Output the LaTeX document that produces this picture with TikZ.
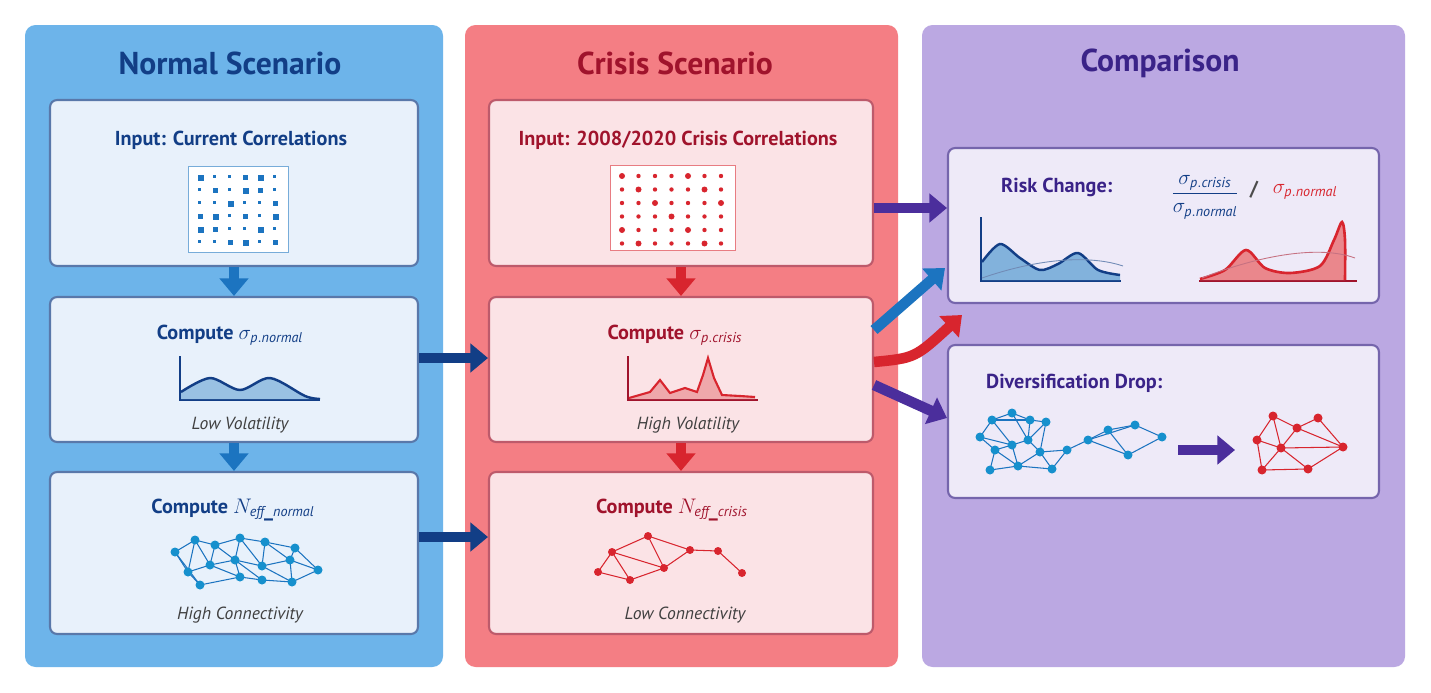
\documentclass[tikz,border=0pt]{standalone}
\usepackage{fontspec}
\setmainfont{PT Sans}
\usetikzlibrary{arrows.meta, positioning, calc}

\definecolor{bluepanel}{HTML}{6DB4EA}
\definecolor{redpanel}{HTML}{F47E84}
\definecolor{purppanel}{HTML}{BBA8E2}
\definecolor{bluebox}{HTML}{E8F1FB}
\definecolor{redbox}{HTML}{FBE3E6}
\definecolor{purpbox}{HTML}{EEEAF8}
\definecolor{navy}{HTML}{123E86}
\definecolor{darkred}{HTML}{A0132C}
\definecolor{darkpurp}{HTML}{3A2388}
\definecolor{midblue}{HTML}{1C74C0}
\definecolor{midred}{HTML}{D8252E}
\definecolor{arrpurp}{HTML}{4B2E9C}

\begin{document}
\begin{tikzpicture}
        [
            x=0.02cm, y=-0.02cm,
            box/.style = {draw, rounded corners=4pt, line width=1.2pt, inner sep=0pt},
            ttl/.style = {font=\fontsize{18}{20}\selectfont\bfseries},
            head/.style = {font=\fontsize{11.5}{13}\selectfont\bfseries},
            lbl/.style = {font=\fontsize{10}{12}\selectfont\itshape, text=black!75},
            bigarr/.style = {line width=6pt, -{Triangle[length=10pt, width=16pt]}},
        ]
        \useasboundingbox (0,0) rectangle (1431,693);
        \fill[white] (0,0) rectangle (1431,693);

        % panels
        \fill[bluepanel, rounded corners=6pt] (25,25) rectangle (443,667);
        \fill[redpanel, rounded corners=6pt] (465,25) rectangle (898,667);
        \fill[purppanel, rounded corners=6pt] (922,25) rectangle (1405,667);
        \node[ttl, text=navy] (tnorm) at (230,63) {Normal Scenario};
        \node[ttl, text=darkred] (tcris) at (675,63) {Crisis Scenario};
        \node[ttl, text=darkpurp] (tcomp) at (1160,63) {Comparison};

        % boxes
        \node[box, draw=navy!70, fill=bluebox, minimum width=7.36cm, minimum height=3.32cm] (n1) at (234,183) {};
        \node[box, draw=navy!70, fill=bluebox, minimum width=7.36cm, minimum height=2.9cm] (n2) at (234,369.5) {};
        \node[box, draw=navy!70, fill=bluebox, minimum width=7.36cm, minimum height=3.24cm] (n3) at (234,553) {};
        \node[box, draw=darkred!70, fill=redbox, minimum width=7.68cm, minimum height=3.32cm] (c1) at (681,183) {};
        \node[box, draw=darkred!70, fill=redbox, minimum width=7.68cm, minimum height=2.9cm] (c2) at (681,369.5) {};
        \node[box, draw=darkred!70, fill=redbox, minimum width=7.68cm, minimum height=3.24cm] (c3) at (681,553) {};
        \node[box, draw=darkpurp!70, fill=purpbox, minimum width=8.62cm, minimum height=3.1cm] (r1) at (1163.5,225.5) {};
        \node[box, draw=darkpurp!70, fill=purpbox, minimum width=8.62cm, minimum height=3.06cm] (r2) at (1163.5,421.5) {};

        % headings
        \node[head, text=navy] (hn1) at (231,140) {Input: Current Correlations};
        \node[head, text=navy] (hn2) at (230,335) {Compute $\sigma_{\mathit{p.normal}}$};
        \node[head, text=navy] (hn3) at (233,510) {Compute $N_{\mathit{eff\_normal}}$};
        \node[head, text=darkred] (hc1) at (678,140) {Input: 2008/2020 Crisis Correlations};
        \node[head, text=darkred] (hc2) at (675,335) {Compute $\sigma_{\mathit{p.crisis}}$};
        \node[head, text=darkred] (hc3) at (672,510) {Compute $N_{\mathit{eff\_crisis}}$};
        \node[head, text=darkpurp, anchor=west] (hr1) at (995,187) {Risk Change:};
        \node[head, text=navy] (frac) at (1205,197) {$\displaystyle\frac{\sigma_{\mathit{p.crisis}}}{\sigma_{\mathit{p.normal}}}$};
        \node[head, text=black!70] (slash) at (1254,190) {/};
        \node[head, text=midred] (signorm) at (1305,192) {$\sigma_{\mathit{p.normal}}$};
        \node[head, text=darkpurp, anchor=west] (hr2) at (980,383) {Diversification Drop:};

        \node[lbl] (ln2) at (240,425) {Low Volatility};
        \node[lbl] (ln3) at (240,615) {High Connectivity};
        \node[lbl] (lc2) at (688,425) {High Volatility};
        \node[lbl] (lc3) at (685,615) {Low Connectivity};

        % correlation matrices
        \draw[midblue!60, fill=white] (188,166) rectangle (288,252);
        \foreach \i in {0,...,5}
            \foreach \j in {0,...,5} {
                \pgfmathsetmacro{\s}{mod(\i*7+\j*3,4)<1 ? 6 : (mod(\i*5+\j,3)<1 ? 4.5 : 3)}
                \fill[midblue] (198+\i*15,175+\j*13) rectangle ++(\s,\s);
            }
        \draw[midred!60, fill=white] (610,165) rectangle (735,250);
        \foreach \i in {0,...,6}
            \foreach \j in {0,...,5} {
                \pgfmathsetmacro{\s}{mod(\i*3+\j*5,4)<1 ? 3 : 2.2}
                \fill[midred] (622+\i*16.5,176+\j*13.5) circle (\s);
            }

        % volatility curves
        \draw[navy, line width=0.8pt] (180,356) -- (180,400) -- (320,400);
        \fill[midblue!45] (181,399) -- plot[smooth] coordinates {(181,392) (210,378) (240,390) (270,378) (305,396) (320,399)} -- cycle;
        \draw[navy, line width=1.4pt] plot[smooth] coordinates {(181,392) (210,378) (240,390) (270,378) (305,396) (320,399)};
        \draw[darkred, line width=0.8pt] (628,356) -- (628,400) -- (758,400);
        \fill[midred!40] (629,399) -- plot coordinates {(629,398) (650,392) (660,380) (670,393) (685,388) (697,392) (703,375) (708,358) (714,378) (722,395) (740,396) (755,397)} -- (755,399) -- cycle;
        \draw[midred, line width=1.2pt] plot coordinates {(629,398) (650,392) (660,380) (670,393) (685,388) (697,392) (703,375) (708,358) (714,378) (722,395) (740,396) (755,397)};

        \draw[navy, line width=0.8pt] (981,217) -- (981,281) -- (1121,281);
        \fill[midblue!55] (982,280) -- plot[smooth] coordinates {(982,262) (1000,244) (1020,258) (1040,270) (1058,264) (1078,253) (1098,270) (1120,275)} -- (1120,280) -- cycle;
        \draw[navy, line width=1.4pt] plot[smooth] coordinates {(982,262) (1000,244) (1020,258) (1040,270) (1058,264) (1078,253) (1098,270) (1120,275)};
        \draw[navy!60, line width=0.5pt] (982,278) .. controls (1040,258) and (1090,255) .. (1123,266);
        \draw[darkred, line width=0.8pt] (1199,281) -- (1357,281);
        \fill[midred!55] (1200,280) -- plot[smooth] coordinates {(1200,279) (1225,270) (1246,250) (1265,268) (1290,273) (1320,266) (1334,240) (1342,222) (1345,240) (1345,280)} -- cycle;
        \draw[midred, line width=1.5pt] plot[smooth] coordinates {(1200,279) (1225,270) (1246,250) (1265,268) (1290,273) (1320,266) (1334,240) (1342,222) (1345,240) (1345,280)};
        \draw[darkred!60, line width=0.5pt] (1202,278) .. controls (1260,255) and (1320,245) .. (1355,258);

        % networks
        \foreach \px/\py [count=\k] in {175/552,195/540,215/545,240/538,265/542,295/548,188/572,210/565,235/560,262/566,290/560,318/570,200/585,240/577,262/580,292/582}
            \coordinate (nn\k) at (\px,\py);
        \foreach \a/\b in {1/2,2/3,3/4,4/5,5/6,1/7,7/8,8/9,9/10,10/11,11/12,7/13,13/14,14/15,15/16,16/12,2/8,3/9,4/10,5/11,6/12,2/7,3/8,4/9,5/10,8/14,9/15,10/16,1/13,6/11,9/14,11/16}
            \draw[midblue, line width=0.6pt] (nn\a) -- (nn\b);
        \foreach \k in {1,...,16} \fill[midblue!80!cyan] (nn\k) circle (4.5);

        \foreach \px/\py [count=\k] in {648/536,612/552,690/550,718/551,598/572,630/580,664/568,742/573}
            \coordinate (cn\k) at (\px,\py);
        \foreach \a/\b in {1/2,1/3,1/7,2/5,2/6,5/6,6/7,7/3,3/4,4/8,2/7}
            \draw[midred, line width=0.6pt] (cn\a) -- (cn\b);
        \foreach \k in {1,...,8} \fill[midred] (cn\k) circle (4);

        \foreach \px/\py [count=\k] in {980/437,992/420,1012/413,1030/420,1046/422,995/450,1012/445,1028/440,1040/452,990/470,1018/466,1052/469,1067/450,1088/440,1108/430,1135/425,1128/455,1162/437}
            \coordinate (dn\k) at (\px,\py);
        \foreach \a/\b in {1/2,2/3,3/4,4/5,1/6,6/7,7/8,8/9,6/10,10/11,11/12,2/7,3/8,4/8,5/9,9/12,9/13,12/13,13/14,14/15,15/16,16/18,18/17,17/14,15/17,14/16,1/7,2/4,7/11,8/5,9/11,6/11}
            \draw[midblue, line width=0.6pt] (dn\a) -- (dn\b);
        \foreach \k in {1,...,18} \fill[midblue!80!cyan] (dn\k) circle (4.5);
        \foreach \px/\py [count=\k] in {1273/416,1318/418,1297/428,1257/440,1281/448,1343/447,1262/470,1308/469}
            \coordinate (en\k) at (\px,\py);
        \foreach \a/\b in {1/3,1/4,1/5,3/2,2/6,3/5,3/6,4/5,4/7,5/7,5/8,5/6,6/8,7/8}
            \draw[midred, line width=0.6pt] (en\a) -- (en\b);
        \foreach \k in {1,...,8} \fill[midred] (en\k) circle (4.5);
        \coordinate (da) at (1178,450);
        \coordinate (db) at (1235,450);
        \draw[bigarr, arrpurp] (da) -- (db);

        % flow arrows
        \coordinate (y208) at (0,208);
        \coordinate (y330) at (0,330);
        \coordinate (y358) at (0,358);
        \coordinate (y360) at (0,362);
        \coordinate (y385) at (0,385);
        \coordinate (y418) at (0,418);
        \coordinate (y537) at (0,537);
        \draw[bigarr, midblue] (n1.south) -- (n2.north);
        \draw[bigarr, midblue] (n2.south) -- (n3.north);
        \draw[bigarr, midred] (c1.south) -- (c2.north);
        \draw[bigarr, midred] (c2.south) -- (c3.north);
        \draw[bigarr, navy] (n2.east |- y358) -- (c2.west |- y358);
        \draw[bigarr, navy] (n3.east |- y537) -- (c3.west |- y537);
        \draw[bigarr, arrpurp] (c1.east |- y208) -- (r1.west |- y208);
        \coordinate (ra) at (945,268);
        \coordinate (rb) at (962,315);
        \draw[bigarr, midblue] (c2.east |- y330) -- (ra);
        \draw[bigarr, midred] (c2.east |- y360) .. controls (915,358) .. (rb);
        \draw[bigarr, arrpurp] (c2.east |- y385) -- (r2.west |- y418);
    \end{tikzpicture}
\end{document}
